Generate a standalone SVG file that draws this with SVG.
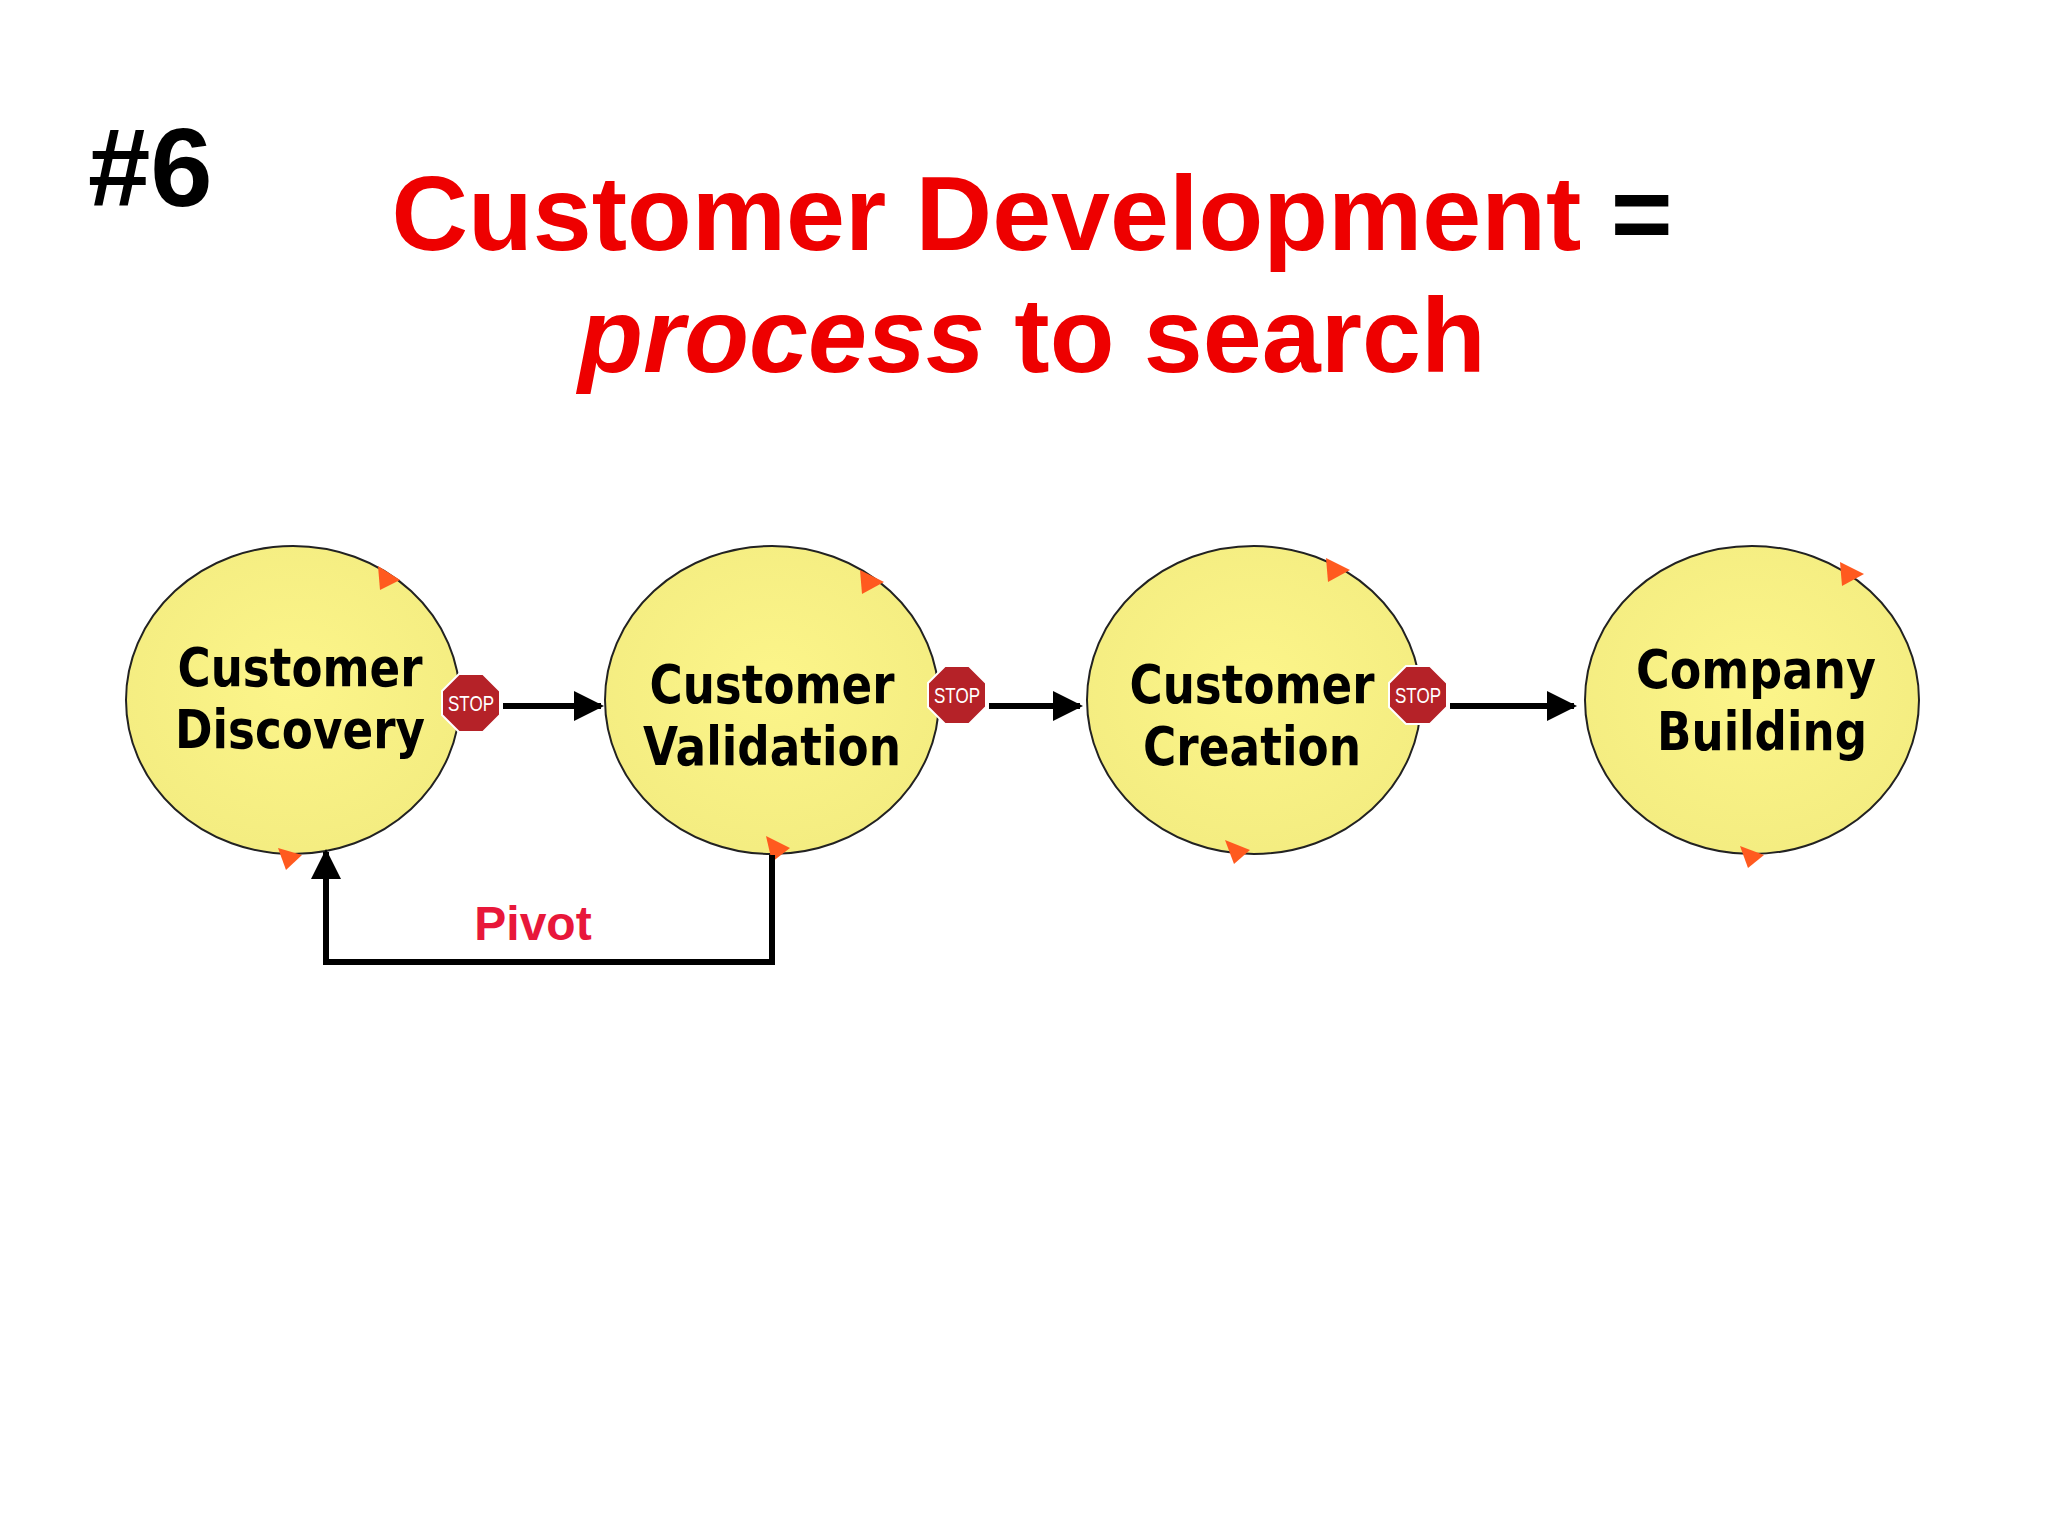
<svg xmlns="http://www.w3.org/2000/svg" width="2048" height="1536" viewBox="0 0 2048 1536">
<defs>
<radialGradient id="yg" cx="0.5" cy="0.45" r="0.6"><stop offset="0" stop-color="#fcf58a"/><stop offset="1" stop-color="#f3ec80"/></radialGradient>
<marker id="ah" viewBox="0 0 10 10" refX="9" refY="5" markerWidth="5" markerHeight="5" orient="auto"><path d="M0,0 L10,5 L0,10 z" fill="#000"/></marker>
<g id="stop"><polygon points="-12,-29 12,-29 29,-12 29,12 12,29 -12,29 -29,12 -29,-12" fill="#b52228" stroke="#fff" stroke-width="2"/><text x="0" y="8" font-family="Liberation Sans, sans-serif" font-size="22" fill="#fff" text-anchor="middle" textLength="46" lengthAdjust="spacingAndGlyphs">STOP</text></g>
</defs>
<style>
.node{fill:url(#yg);stroke:#222;stroke-width:2}
.lbl{font-family:"DejaVu Sans",sans-serif;font-weight:bold;font-size:54px;fill:#000;text-anchor:middle}
.tri{fill:#ff5a1f}
.con{stroke:#000;stroke-width:6;fill:none}
</style>
<rect width="2048" height="1536" fill="#fff"/>
<text x="88" y="206" font-family="Liberation Sans, sans-serif" font-weight="bold" font-size="112" fill="#000">#6</text>
<text x="1032" y="250" font-family="Liberation Sans, sans-serif" font-weight="bold" font-size="106" fill="#ee0000" text-anchor="middle">Customer Development <tspan fill="#000">=</tspan></text>
<text x="1032" y="372" font-family="Liberation Sans, sans-serif" font-weight="bold" font-size="106" fill="#ee0000" text-anchor="middle"><tspan font-style="italic">process</tspan> to search</text>
<g id="n1"><ellipse class="node" cx="293" cy="700" rx="167" ry="154"/><text class="lbl" x="300" y="686" textLength="245" lengthAdjust="spacingAndGlyphs">Customer</text><text class="lbl" x="300" y="748" textLength="250" lengthAdjust="spacingAndGlyphs">Discovery</text><polygon class="tri" points="378,566 400,580 380,590"/><polygon class="tri" points="278,848 302,855 286,870"/></g>
<g id="n2"><ellipse class="node" cx="772" cy="700" rx="167" ry="154"/><text class="lbl" x="772" y="703" textLength="245" lengthAdjust="spacingAndGlyphs">Customer</text><text class="lbl" x="772" y="765" textLength="258" lengthAdjust="spacingAndGlyphs">Validation</text><polygon class="tri" points="860,570 884,582 862,594"/><polygon class="tri" points="766,836 790,848 772,862"/></g>
<g id="n3"><ellipse class="node" cx="1254" cy="700" rx="167" ry="154"/><text class="lbl" x="1252" y="703" textLength="245" lengthAdjust="spacingAndGlyphs">Customer</text><text class="lbl" x="1252" y="765" textLength="218" lengthAdjust="spacingAndGlyphs">Creation</text><polygon class="tri" points="1326,558 1350,570 1328,582"/><polygon class="tri" points="1225,840 1250,850 1234,864"/></g>
<g id="n4"><ellipse class="node" cx="1752" cy="700" rx="167" ry="154"/><text class="lbl" x="1756" y="688" textLength="240" lengthAdjust="spacingAndGlyphs">Company</text><text class="lbl" x="1762" y="750" textLength="210" lengthAdjust="spacingAndGlyphs">Building</text><polygon class="tri" points="1840,562 1864,574 1842,586"/><polygon class="tri" points="1740,846 1764,855 1748,868"/></g>
<use href="#stop" x="471" y="703"/>
<use href="#stop" x="957" y="695"/>
<use href="#stop" x="1418" y="695"/>
<g id="connectors">
<line class="con" x1="503" y1="706" x2="601" y2="706" marker-end="url(#ah)"/>
<line class="con" x1="989" y1="706" x2="1080" y2="706" marker-end="url(#ah)"/>
<line class="con" x1="1450" y1="706" x2="1574" y2="706" marker-end="url(#ah)"/>
<polyline class="con" points="772,855 772,962 326,962 326,852" marker-end="url(#ah)"/>
<text x="533" y="940" font-family="Liberation Sans, sans-serif" font-weight="bold" font-size="48" fill="#e8173a" text-anchor="middle">Pivot</text>
</g>
</svg>
